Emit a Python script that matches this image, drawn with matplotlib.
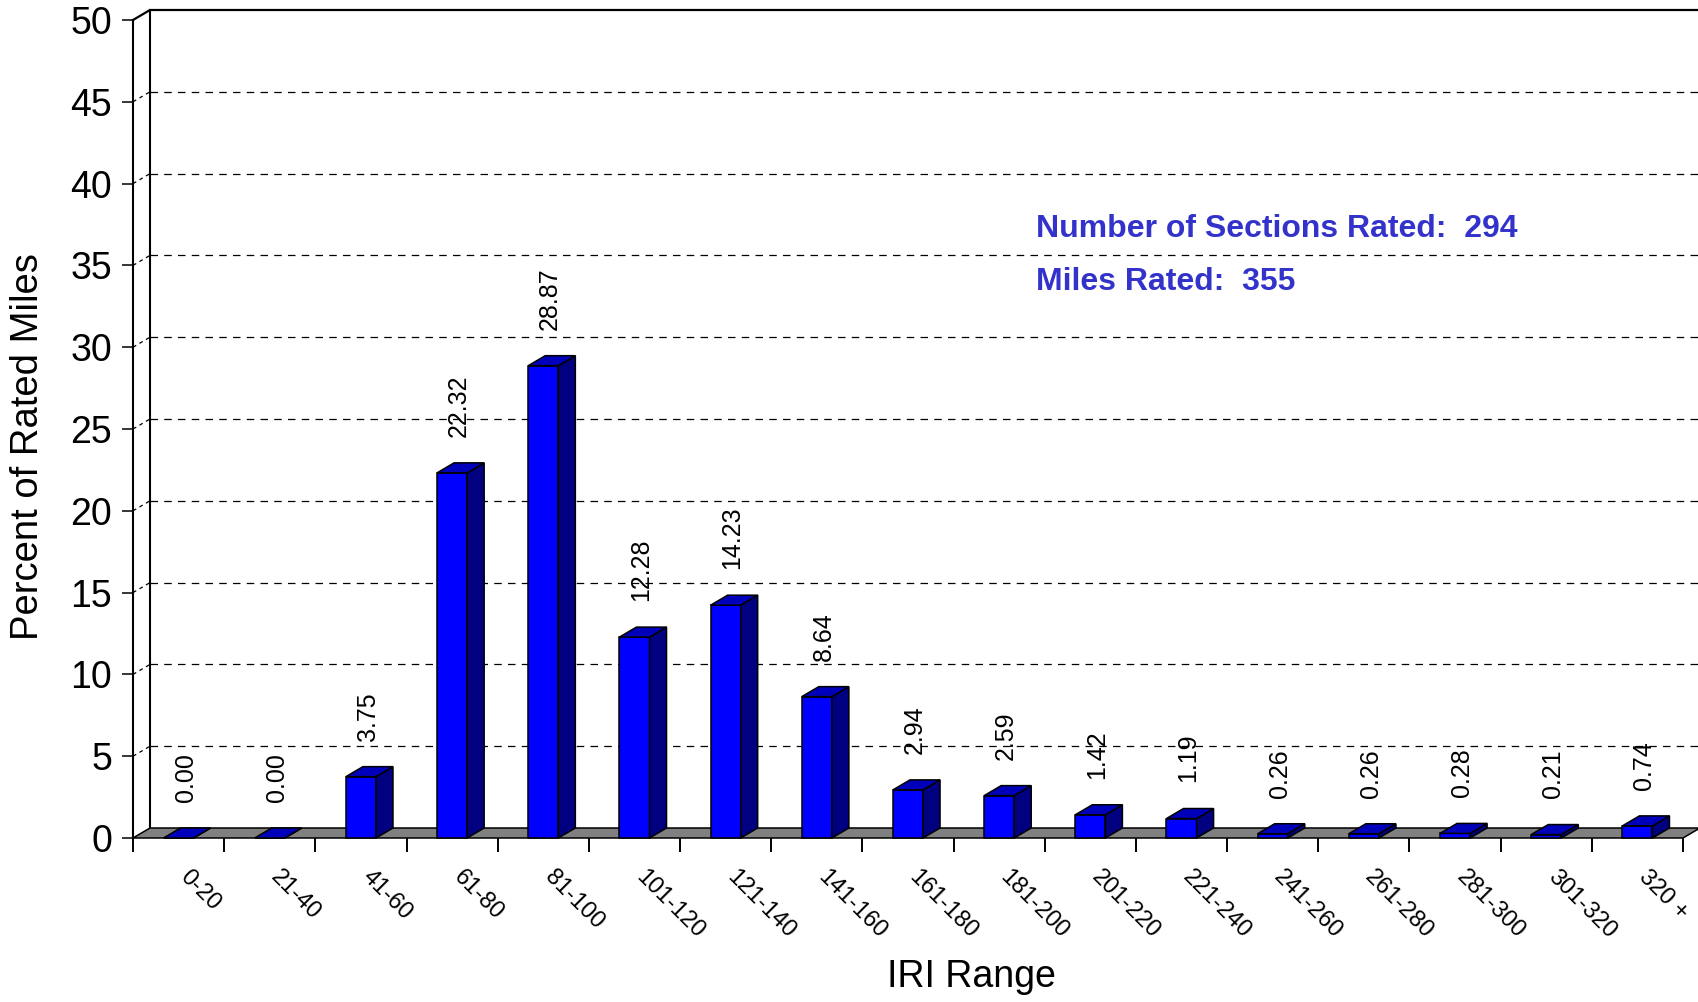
import matplotlib
matplotlib.use('Agg')
import matplotlib.pyplot as plt
from matplotlib.patches import Polygon

plt.rcParams['font.family'] = ['Liberation Sans', 'DejaVu Sans']

# data
categories = ['0-20', '21-40', '41-60', '61-80', '81-100', '101-120', '121-140',
              '141-160', '161-180', '181-200', '201-220', '221-240', '241-260',
              '261-280', '281-300', '301-320', '320 +']
percent_miles = [0.00, 0.00, 3.75, 22.32, 28.87, 12.28, 14.23, 8.64, 2.94,
                 2.59, 1.42, 1.19, 0.26, 0.26, 0.28, 0.21, 0.74]
sections_rated = 294
miles_rated = 355

W, H = 1698, 1002
fig = plt.figure(figsize=(W / 100, H / 100), dpi=100)
ax = fig.add_axes([133 / W, 164 / H, 1550 / W, 818 / H])

n = len(categories)
ymax = 50
ax.set_xlim(0, n)
ax.set_ylim(0, ymax)

# depth of the fake 3D box, in data units (about 17 px right, 10 px up)
dx = 17 / (1550 / n)
dy = 10 / (818 / ymax)
xr = n + 0.3  # runs off the right edge of the figure


def face(pts, color, z=3):
    ax.add_patch(Polygon(pts, closed=True, facecolor=color, edgecolor='black',
                         linewidth=1.1, clip_on=False, zorder=z))


# dashed grid on back wall and left wall
for g in range(5, ymax, 5):
    ax.plot([dx, xr], [g + dy, g + dy], color='black', lw=0.9, dashes=(6, 5),
            clip_on=False, zorder=1)
    ax.plot([0, dx], [g, g + dy], color='black', lw=0.9, dashes=(3, 3),
            clip_on=False, zorder=1)

# back wall outline
ax.plot([dx, dx], [dy, ymax + dy], color='black', lw=1.5, clip_on=False, zorder=1)
ax.plot([0, dx, xr], [ymax, ymax + dy, ymax + dy], color='black', lw=1.6,
        clip_on=False, zorder=1)

# floor
face([(0, 0), (n, 0), (n + dx, dy), (dx, dy)], '#808080', z=2)

# bars
bw = 0.33
for i, v in enumerate(percent_miles):
    x0 = i + 0.5 - bw / 2
    x1 = x0 + bw
    face([(x0, 0), (x1, 0), (x1, v), (x0, v)], '#0000FF')
    face([(x1, 0), (x1 + dx, dy), (x1 + dx, v + dy), (x1, v)], '#000080')
    face([(x0, v), (x1, v), (x1 + dx, v + dy), (x0 + dx, v + dy)], '#0000BB')
    ax.annotate(f'{v:.2f}', xy=(i + 0.5, v), xytext=(5, 26),
                textcoords='offset points', rotation=90, ha='center',
                va='bottom', fontsize=18, zorder=5)
    ax.annotate(categories[i], xy=(i + 0.5, 0), xycoords=('data', 'axes fraction'),
                xytext=(9, -20), textcoords='offset points', rotation=-45,
                ha='left', va='top', rotation_mode='anchor', fontsize=17,
                annotation_clip=False)

# axes and ticks
for s in ['top', 'right', 'bottom']:
    ax.spines[s].set_visible(False)
ax.spines['left'].set_linewidth(1.5)
ax.set_xticks(range(n + 1))
ax.set_xticklabels([])
ax.tick_params(axis='x', length=10, width=1.4, direction='out')
ax.set_yticks(range(0, ymax + 1, 5))
ax.tick_params(axis='y', length=8, width=1.1, pad=7, labelsize=27)
ax.patch.set_visible(False)

fig.text(28 / W, 1 - 447 / H, 'Percent of Rated Miles', rotation=90,
         ha='center', va='center', fontsize=27.5)
fig.text(971 / W, 1 - 987 / H, 'IRI Range', ha='center', va='baseline',
         fontsize=27)

fig.text(1036 / W, 1 - 237 / H, f'Number of Sections Rated:  {sections_rated}',
         color='#3333CC', fontweight='bold', fontsize=23, va='baseline')
fig.text(1036 / W, 1 - 290 / H, f'Miles Rated:  {miles_rated}',
         color='#3333CC', fontweight='bold', fontsize=23, va='baseline')

fig.savefig('out.png', dpi=100)
